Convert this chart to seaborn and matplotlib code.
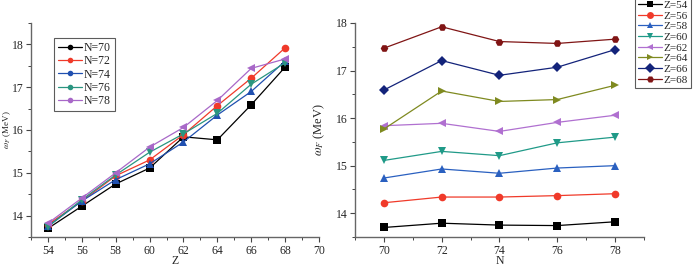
import numpy as np
import pandas as pd
import matplotlib
matplotlib.use("Agg")
import matplotlib.pyplot as plt
import seaborn as sns
from matplotlib.ticker import MultipleLocator
from matplotlib.lines import Line2D

# Data: omega_F (MeV) for each Z (rows) and N (columns)
Z_vals = [54, 56, 58, 60, 62, 64, 66, 68]
N_vals = [70, 72, 74, 76, 78]
w_Z54 = [13.70, 13.79, 13.75, 13.74, 13.82]
w_Z56 = [14.22, 14.34, 14.34, 14.37, 14.41]
w_Z58 = [14.74, 14.93, 14.84, 14.95, 15.00]
w_Z60 = [15.11, 15.30, 15.21, 15.48, 15.60]
w_Z62 = [15.84, 15.89, 15.72, 15.91, 16.06]
w_Z64 = [15.77, 16.57, 16.35, 16.39, 16.69]
w_Z66 = [16.59, 17.21, 16.90, 17.07, 17.44]
w_Z68 = [17.47, 17.92, 17.61, 17.57, 17.66]
rows = [w_Z54, w_Z56, w_Z58, w_Z60, w_Z62, w_Z64, w_Z66, w_Z68]

records = []
for z, r in zip(Z_vals, rows):
    for n, w in zip(N_vals, r):
        records.append({"Z": z, "N": n, "w": w})
df = pd.DataFrame(records)
df["Zlab"] = df["Z"].map(lambda v: f"Z={v}")
df["Nlab"] = df["N"].map(lambda v: f"N={v}")

sns.set_style("ticks")
plt.rcParams["font.family"] = ["Liberation Serif", "DejaVu Serif"]
plt.rcParams["mathtext.fontset"] = "stix"

fig = plt.figure(figsize=(6.97, 2.67), dpi=100)
ax1 = fig.add_axes([0.0445, 0.1124, 0.4132, 0.8015])
ax2 = fig.add_axes([0.5093, 0.1124, 0.4146, 0.8015])

n_colors = ["#000000", "#f03a2a", "#2050b0", "#2a9580", "#a868c8"]
n_markers = ["s", "o", "^", "v", "<"]
z_colors = ["#000000", "#f03a2a", "#2a60c0", "#209a88", "#b070d0",
            "#7f8a20", "#13237a", "#801515"]
z_markers = ["s", "o", "^", "v", "<", ">", "D", "H"]

nlabs = [f"N={n}" for n in N_vals]
zlabs = [f"Z={z}" for z in Z_vals]

sns.lineplot(data=df, x="Z", y="w", hue="Nlab", style="Nlab",
             hue_order=nlabs, style_order=nlabs,
             palette=dict(zip(nlabs, n_colors)),
             markers=dict(zip(nlabs, n_markers)), dashes=False,
             markersize=5.5, markeredgewidth=0, linewidth=0.9,
             ax=ax1, legend=False)
sns.lineplot(data=df, x="N", y="w", hue="Zlab", style="Zlab",
             hue_order=zlabs, style_order=zlabs,
             palette=dict(zip(zlabs, z_colors)),
             markers=dict(zip(zlabs, z_markers)), dashes=False,
             markersize=5.5, markeredgewidth=0, linewidth=0.9,
             ax=ax2, legend=False)

# Legends
h1 = [Line2D([0], [0], color=c, marker="o", markersize=4, lw=0.9, markeredgewidth=0)
      for c in n_colors]
leg1 = ax1.legend(h1, nlabs, loc="upper left", bbox_to_anchor=(0.079, 0.932),
                  fontsize=8.5, frameon=True, fancybox=False, handlelength=2.0,
                  handletextpad=0.2, labelspacing=0.12, borderpad=0.35,
                  borderaxespad=0)
leg1.get_frame().set_edgecolor("#333333")
leg1.get_frame().set_linewidth(0.8)

h2 = [Line2D([0], [0], color=c, marker=m, markersize=5, lw=0.9, markeredgewidth=0)
      for c, m in zip(z_colors, z_markers)]
leg2 = fig.legend(h2, zlabs, loc="upper left", bbox_to_anchor=(0.911, 1.012),
                  fontsize=8, frameon=True, fancybox=False, handlelength=2.1,
                  handletextpad=0.15, labelspacing=0.08, borderpad=0.3,
                  borderaxespad=0)
leg2.get_frame().set_edgecolor("#333333")
leg2.get_frame().set_linewidth(0.8)

ax1.set_xlim(53, 70)
ax1.set_ylim(13.5, 18.5)
ax1.set_xticks([54, 56, 58, 60, 62, 64, 66, 68, 70])
ax1.set_yticks([14, 15, 16, 17, 18])
ax1.xaxis.set_minor_locator(MultipleLocator(1))
ax1.yaxis.set_minor_locator(MultipleLocator(0.5))

ax2.set_xlim(69, 79)
ax2.set_ylim(13.5, 18.0)
ax2.set_xticks([70, 72, 74, 76, 78])
ax2.set_yticks([14, 15, 16, 17, 18])
ax2.xaxis.set_minor_locator(MultipleLocator(1))
ax2.yaxis.set_minor_locator(MultipleLocator(0.5))

for ax in (ax1, ax2):
    sns.despine(ax=ax)
    for s in ("left", "bottom"):
        ax.spines[s].set_color("#666666")
        ax.spines[s].set_linewidth(1.0)
    ax.tick_params(axis="both", which="major", direction="out", length=3.5,
                   width=0.8, color="#444444", labelsize=8.5, pad=2)
    ax.tick_params(axis="both", which="minor", direction="out", length=2,
                   width=0.7, color="#444444")
ax1.tick_params(axis="y", which="major", pad=1.5)

ax1.set_xlabel("Z", fontsize=8.5, labelpad=-1)
ax1.set_ylabel(r"$\omega_F$ (MeV)", fontsize=6.5)
ax1.yaxis.set_label_coords(-0.064, 0.5)
ax2.set_xlabel("N", fontsize=8.5, labelpad=-1)
ax2.set_ylabel(r"$\omega_F$ (MeV)", fontsize=9, labelpad=6)

fig.savefig("out.png", dpi=100)
